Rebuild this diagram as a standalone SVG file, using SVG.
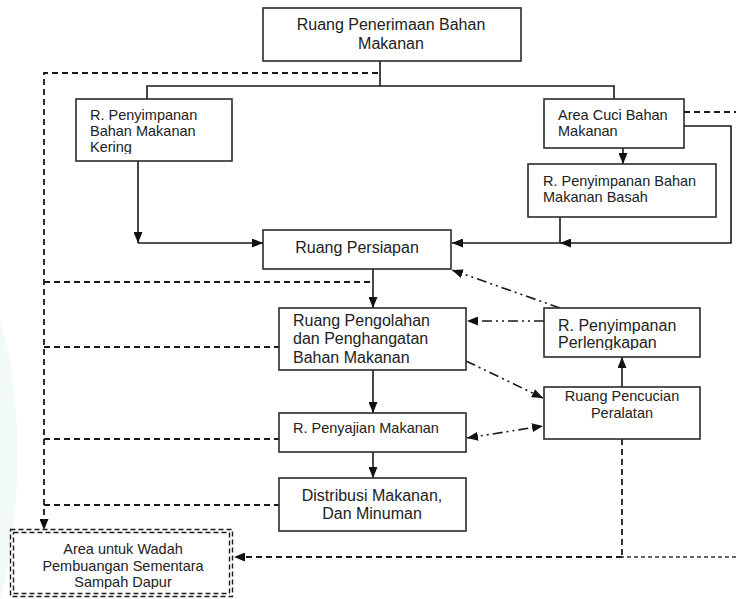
<svg xmlns="http://www.w3.org/2000/svg" width="736" height="599" viewBox="0 0 736 599">
  <style>
    .box { fill: #ffffff; stroke: #2b2b2b; stroke-width: 1.6; }
    .t16 { font-family: "Liberation Sans", Arial, sans-serif; font-size: 16px; fill: #222222; }
    .t14 { font-family: "Liberation Sans", Arial, sans-serif; font-size: 14.5px; fill: #222222; }
    .mid { text-anchor: middle; }
    .solid { fill: none; stroke: #1a1a1a; stroke-width: 1.6; }
    .dash { fill: none; stroke: #1a1a1a; stroke-width: 1.8; stroke-dasharray: 6 4; }
    .dashfine { fill: none; stroke: #333333; stroke-width: 1.3; stroke-dasharray: 4 3; }
    .dashdot { fill: none; stroke: #1a1a1a; stroke-width: 1.6; stroke-dasharray: 10 4 2 4 2 4; }
    .waste { fill: none; stroke: #1a1a1a; stroke-width: 1.4; stroke-dasharray: 5 3; }
  </style>
  <defs>
    <marker id="arrow" markerUnits="userSpaceOnUse" markerWidth="11" markerHeight="9" refX="11" refY="4.5" orient="auto-start-reverse">
      <path d="M0,0 L11,4.5 L0,9 Z" fill="#111111"/>
    </marker>
    <clipPath id="clipKering"><rect x="76" y="99" width="156" height="55"/></clipPath>
    <clipPath id="clipPerlengkapan"><rect x="544" y="308" width="156" height="42"/></clipPath>
    <clipPath id="clipWaste"><rect x="10" y="529" width="223" height="60"/></clipPath>
  </defs>

  <rect width="736" height="599" fill="#ffffff"/>
  <!-- faint watermark tint along the left edge -->
  <path d="M0,320 C16,370 22,450 14,520 C10,555 6,580 0,599 Z" fill="#e6f5ec" opacity="0.5"/>

  <g id="connectors">
    <!-- receiving room splits to dry store and washing area -->
    <path class="solid" d="M380,61 V86 M147,99 V86 H614 V99"/>
    <!-- dry store to preparation -->
    <path class="solid" d="M138,161 V243" marker-end="url(#arrow)"/>
    <path class="solid" d="M138,243 H263" marker-end="url(#arrow)"/>
    <!-- washing area to wet store and preparation -->
    <path class="solid" d="M623,148 V164" marker-end="url(#arrow)"/>
    <path class="solid" d="M684,126 H731 V243 H560" marker-end="url(#arrow)"/>
    <path class="solid" d="M560,217 V243 H452" marker-end="url(#arrow)"/>
    <!-- main production line -->
    <path class="solid" d="M373,269 V308" marker-end="url(#arrow)"/>
    <path class="solid" d="M373,370 V413" marker-end="url(#arrow)"/>
    <path class="solid" d="M373,452 V478" marker-end="url(#arrow)"/>
    <!-- equipment washing to equipment storage -->
    <path class="solid" d="M622,387 V357" marker-end="url(#arrow)"/>

    <!-- equipment flows -->
    <path class="dashdot" d="M560,308 L452,270" marker-end="url(#arrow)"/>
    <path class="dashdot" d="M544,321 H467" marker-end="url(#arrow)"/>
    <path class="dashdot" d="M466,361 L543,398" marker-end="url(#arrow)"/>
    <path class="dashdot" d="M467,438 L543,426" marker-start="url(#arrow)" marker-end="url(#arrow)"/>

    <!-- waste routes -->
    <path class="dash" d="M378,73 H44 V530" marker-end="url(#arrow)"/>
    <path class="dash" d="M44,282 H373"/>
    <path class="dash" d="M44,347 H279"/>
    <path class="dash" d="M44,439 H279"/>
    <path class="dash" d="M44,505 H279"/>
    <path class="dash" d="M684,112 H736"/>
    <path class="dash" d="M622,439 V557"/>
    <path class="dashfine" d="M736,557 H622"/>
    <path class="dash" d="M622,557 H234" marker-end="url(#arrow)"/>
  </g>

  <g id="n-penerimaan">
    <rect class="box" x="263" y="8" width="258" height="53"/>
    <text class="t16 mid" x="391" y="30">Ruang Penerimaan Bahan</text>
    <text class="t16 mid" x="391" y="49">Makanan</text>
  </g>

  <g id="n-kering">
    <rect class="box" x="76" y="99" width="156" height="62"/>
    <g clip-path="url(#clipKering)">
      <text class="t14" x="90" y="120">R. Penyimpanan</text>
      <text class="t14" x="90" y="136">Bahan Makanan</text>
      <text class="t14" x="90" y="152">Kering</text>
    </g>
  </g>

  <g id="n-cuci">
    <rect class="box" x="544" y="99" width="140" height="49"/>
    <text class="t14" x="558" y="120">Area Cuci Bahan</text>
    <text class="t14" x="558" y="136">Makanan</text>
  </g>

  <g id="n-basah">
    <rect class="box" x="528" y="164" width="188" height="53"/>
    <text class="t14" x="543" y="186">R. Penyimpanan Bahan</text>
    <text class="t14" x="543" y="202">Makanan Basah</text>
  </g>

  <g id="n-persiapan">
    <rect class="box" x="263" y="230" width="188" height="39"/>
    <text class="t16 mid" x="357" y="253">Ruang Persiapan</text>
  </g>

  <g id="n-pengolahan">
    <rect class="box" x="279" y="308" width="187" height="62"/>
    <text class="t16" x="293" y="326">Ruang Pengolahan</text>
    <text class="t16" x="293" y="344">dan Penghangatan</text>
    <text class="t16" x="293" y="363">Bahan Makanan</text>
  </g>

  <g id="n-perlengkapan">
    <rect class="box" x="544" y="308" width="156" height="49"/>
    <g clip-path="url(#clipPerlengkapan)">
      <text class="t16" x="558" y="331">R. Penyimpanan</text>
      <text class="t16" x="558" y="348">Perlengkapan</text>
    </g>
  </g>

  <g id="n-pencucian">
    <rect class="box" x="544" y="387" width="156" height="52"/>
    <text class="t14 mid" x="622" y="401">Ruang Pencucian</text>
    <text class="t14 mid" x="622" y="418">Peralatan</text>
  </g>

  <g id="n-penyajian">
    <rect class="box" x="279" y="413" width="187" height="39"/>
    <text class="t14" x="293" y="433">R. Penyajian Makanan</text>
  </g>

  <g id="n-distribusi">
    <rect class="box" x="279" y="478" width="187" height="53"/>
    <text class="t16 mid" x="372" y="501">Distribusi Makanan,</text>
    <text class="t16 mid" x="372" y="519">Dan Minuman</text>
  </g>

  <g id="n-sampah">
    <rect class="waste" x="10.5" y="529.5" width="222" height="67"/>
    <rect class="waste" x="13.5" y="532.5" width="216" height="61"/>
    <g clip-path="url(#clipWaste)">
      <text class="t14 mid" x="123" y="554">Area untuk Wadah</text>
      <text class="t14 mid" x="123" y="571">Pembuangan Sementara</text>
      <text class="t14 mid" x="123" y="587">Sampah Dapur</text>
    </g>
  </g>
</svg>
